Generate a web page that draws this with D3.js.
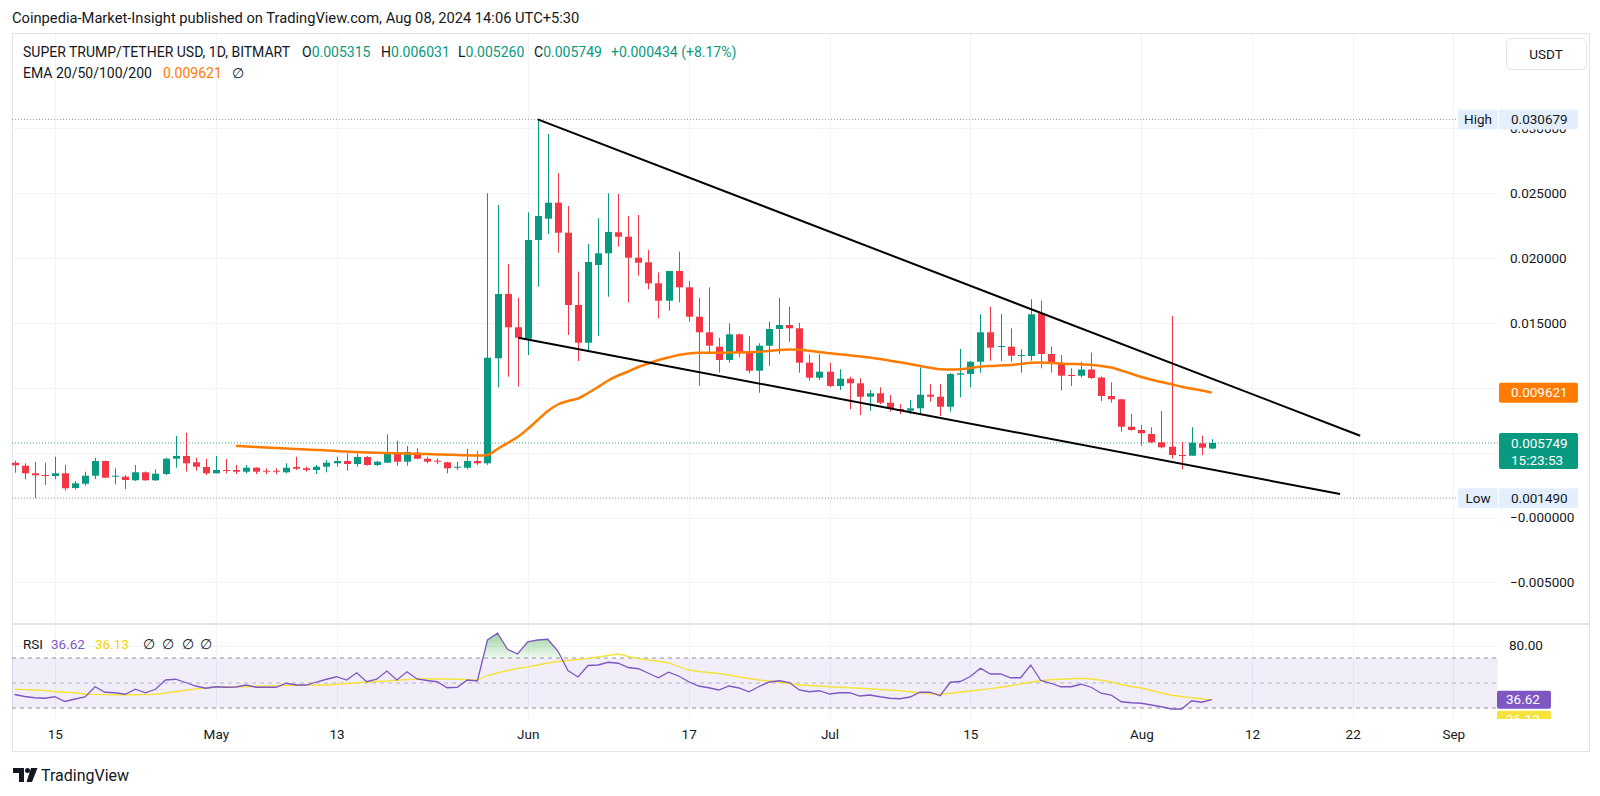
<!DOCTYPE html>
<html><head><meta charset="utf-8">
<script src="https://cdn.jsdelivr.net/npm/d3@7"></script>
<style>
html,body{margin:0;padding:0;background:#fff;}
svg{display:block;font-family:Roboto,"Noto Sans",sans-serif;}
</style></head><body>
<svg id="c" width="1600" height="796"></svg>
<script>
// ---------- DATA ----------
const startDate = [2024, 3, 11]; // 11 Apr 2024, daily candles
const opens = [.004223,.003992,.003406,.003275,.003198,.003406,.002273,.002605,.003221,.004354,
.003144,.003144,.002867,.003483,.002867,.003352,.004531,.004739,.004254,.003892,
.003406,.00366,.00366,.003529,.003838,.003606,.003606,.003483,.003892,.003791,
.00366,.003915,.004177,.004354,.004123,.004662,.004046,.004223,.004947,.0043,
.004993,.004531,.004377,.004254,.003838,.003838,.004354,.004177,.012268,.017223,
.014657,.013778,.021384,.023026,.024259,.021947,.016375,.01347,.019457,.020359,
.021978,.021638,.02002,.019666,.018048,.016707,.018995,.017739,.015474,.014271,
.013162,.012137,.014117,.01273,.011312,.013239,.014526,.014834,.01458,.011929,
.010773,.011235,.010133,.010696,.010341,.009309,.009571,.008846,.008361,.00823,
.008415,.009463,.009309,.008538,.011004,.011058,.012006,.014271,.013162,.013162,
.012468,.012445,.015736,.0126,.011883,.010981,.010927,.011405,.010788,.009363,
.009109,.006997,.006743,.006435,.005795,.005456,.004816,.004762,.005718,.005315];
const highs = [.004377,.004177,.0043,.004223,.004685,.004046,.002813,.003529,.004608,.004392,
.003791,.003275,.004046,.003545,.003714,.004608,.00628,.006535,.004608,.004531,
.004739,.004508,.004046,.004046,.003868,.003791,.003791,.004177,.004685,.003915,
.004046,.004431,.004685,.004947,.004947,.004739,.004377,.006411,.005918,.00551,
.005333,.004685,.004562,.0043,.0043,.005279,.005124,.024983,.024081,.019535,
.016938,.023519,.030679,.029553,.026524,.024004,.018941,.021076,.023056,.024983,
.024929,.023234,.023311,.020614,.018895,.018995,.020483,.018225,.016938,.017739,
.013855,.014965,.014179,.013986,.013424,.015088,.016938,.016244,.015011,.012576,
.0126,.011929,.01142,.01085,.010727,.009825,.010033,.00944,.008746,.009055,
.011574,.010288,.010288,.011112,.012985,.01206,.015659,.016244,.015682,.01458,
.012961,.016815,.016707,.013162,.012522,.011497,.012006,.012715,.010865,.010419,
.009132,.007976,.007128,.006951,.008207,.015528,.005841,.006951,.006303,.006031];
const lows = [.003452,.002944,.00149,.002504,.002944,.002065,.002173,.002451,.002967,.003044,
.002558,.002196,.002813,.002813,.002813,.003275,.003838,.003529,.003606,.003275,
.00339,.003406,.003352,.003406,.003352,.003329,.003329,.003406,.00366,.003529,
.003352,.003483,.003915,.003606,.003915,.003992,.003969,.004207,.003992,.003992,
.004485,.004177,.004123,.003406,.00366,.003714,.004046,.004046,.010033,.01085,
.01008,.012522,.017785,.021847,.020406,.014063,.01206,.01283,.013986,.017015,
.020868,.016583,.018633,.017585,.01535,.015936,.016583,.015088,.010157,.01273,
.011158,.011929,.012345,.011112,.009617,.011698,.0126,.013547,.011158,.010542,
.010596,.010033,.009825,.008338,.007899,.00823,.008746,.008153,.007976,.007976,
.007976,.008924,.007822,.008153,.009263,.010033,.011158,.012083,.01206,.012006,
.011158,.012083,.011497,.011158,.009787,.010133,.010804,.010673,.008977,.008846,
.006612,.006689,.005533,.005718,.005333,.004562,.003714,.004762,.004816,.00526];
const closes = [.004023,.003406,.003252,.003221,.003406,.00225,.002635,.003221,.004354,.003067,
.003221,.00289,.003483,.002867,.003375,.004531,.004739,.004177,.003915,.003406,
.00366,.003606,.003529,.003838,.003529,.003529,.003529,.003838,.003761,.00366,
.003915,.004223,.004354,.004123,.004662,.004046,.0043,.004947,.0043,.005047,
.004531,.0043,.0043,.003791,.003915,.004354,.004177,.012314,.017223,.014657,
.013855,.021384,.023234,.024259,.021947,.016375,.01347,.019689,.020359,.022001,
.021638,.02002,.019635,.018048,.016707,.018995,.017739,.015474,.014271,.013239,
.012137,.014117,.01273,.011312,.013239,.014526,.014834,.01458,.011929,.010773,
.011235,.010133,.010696,.010341,.009309,.009571,.008846,.008384,.00823,.008415,
.009463,.009309,.008538,.011058,.011112,.012006,.014271,.013085,.013216,.012468,
.012522,.015659,.0126,.011883,.010927,.010927,.011405,.01075,.009363,.009109,
.006997,.006743,.006489,.005795,.00541,.004816,.004762,.005764,.005379,.005749];
// EMA line values, daily from 3 May 2024 to 8 Aug 2024
const emaStart = [2024, 4, 3];
const emaValues = [.00551,.005479,.00544,.005402,.005363,.005325,.005286,.005248,.005209,.005171,
.005124,.005078,.005047,.005017,.004986,.00497,.004955,.004932,.004909,.004886,
.004863,.004839,.004816,.004793,.00477,.004816,.005279,.005741,.006203,.00682,
.007513,.008207,.008708,.008977,.00917,.009594,.010056,.010557,.010943,.011251,
.011598,.011867,.012137,.01233,.012522,.012638,.012692,.0127,.0127,.012707,
.012715,.01273,.012769,.01283,.012908,.012946,.012923,.012846,.012753,.012653,
.012576,.012499,.012422,.01233,.012214,.012083,.011968,.011829,.011675,.011536,
.01142,.011405,.01142,.01152,.01162,.011675,.011713,.011752,.011829,.011929,
.011944,.011906,.011867,.011829,.011813,.011752,.011675,.011559,.011328,.011074,
.010827,.010611,.010442,.010264,.010072,.009918,.009787,.009621];
const rsiValues = [40.8,39.2,38.2,37.8,39.0,35.2,37.2,38.8,47.0,42.6,
42.2,41.0,45.0,42.2,45.0,52.4,53.0,50.4,47.6,45.8,
47.0,46.6,46.8,48.4,46.6,46.6,46.6,49.8,48.4,48.4,
50.8,53.0,55.0,52.4,58.2,51.0,53.0,59.6,52.4,59.0,
53.2,52.0,51.0,46.2,46.6,52.4,51.6,84.4,89.8,77.0,
73.2,83.0,84.4,85.0,75.6,60.0,54.8,64.0,64.4,66.6,
65.8,62.4,61.4,57.8,54.2,58.6,55.6,51.0,47.6,46.2,
44.4,47.6,46.0,43.0,47.2,50.8,51.8,50.4,44.4,43.0,
43.8,41.2,42.2,42.2,39.6,40.4,39.0,37.8,37.4,38.8,
42.6,42.6,39.8,50.6,51.2,55.2,61.8,57.2,57.2,54.2,
54.2,64.4,52.0,49.8,47.0,47.0,49.0,46.6,41.8,40.4,
35.0,34.2,33.8,32.4,31.0,29.2,29.2,35.8,34.6,36.62];
const rsiMAValues = [45.0,44.7,44.4,44.0,43.0,42.6,42.2,41.0,40.9,40.7,
40.6,40.4,40.6,40.8,41.0,42.0,43.2,44.2,45.2,46.0,
46.6,46.8,47.0,47.0,47.4,47.6,47.9,48.2,48.2,48.3,
48.4,48.4,49.0,49.6,50.2,50.8,51.2,51.6,52.2,52.7,
53.2,53.2,53.2,53.2,53.0,52.6,52.4,56.0,58.0,60.0,
61.6,62.8,64.4,66.0,67.2,68.0,68.8,69.6,70.8,72.0,
73.2,71.2,69.6,68.4,67.4,66.0,63.2,60.4,59.2,58.4,
57.6,56.4,54.8,53.6,52.4,51.6,50.6,49.6,48.6,48.0,
47.6,47.0,46.6,46.2,45.8,45.4,44.8,44.4,43.8,43.0,
42.2,41.4,41.0,41.8,42.8,43.6,44.6,45.5,46.6,47.8,
49.2,50.6,51.8,52.6,53.0,53.4,53.8,53.2,52.2,50.8,
48.8,47.2,46.0,44.0,42.0,40.2,39.2,38.2,37.4,36.13];
// trend lines (date, price)
const upperTrend = [["2024-06-02T00:00", 0.030679], ["2024-08-22T18:00", 0.006303]];
const lowerTrend = [["2024-05-31T02:00", 0.013855], ["2024-08-20T18:00", 0.001811]];
// axis ticks
const timeTicks = [[2024,3,15],[2024,4,1],[2024,4,13],[2024,5,1],[2024,5,17],[2024,6,1],[2024,6,15],[2024,7,1],[2024,7,12],[2024,7,22],[2024,8,1]];
const timeTickLabels = ["15","May","13","Jun","17","Jul","15","Aug","12","22","Sep"];
const priceTicks = [-0.005, 0, 0.005, 0.010, 0.015, 0.020, 0.025, 0.030];
// 0.005000 sits fully under the last-price tag in the reference, so it has no visible label
const priceTickLabels = ["\u22120.005000","\u22120.000000","","0.010000","0.015000","0.020000","0.025000","0.030000"];
const highPrice = 0.030679, lowPrice = 0.001490, lastPrice = 0.005749, lastEma = 0.009621;
const rsiLast = 36.62, rsiMALast = 36.13;

// ---------- LAYOUT ----------
const PL = 12, PR = 1498, MT = 34, MB = 624, RT = 624, RB = 719, CR = 1589;
const GREEN = "#089981", RED = "#f23645", EMA_C = "#ff7b00", PURPLE = "#7e57c2", YELLOW = "#f5e23a", TXT = "#131722", GRID = "#f0f3fa";

const dates = opens.map((_, i) => d3.timeDay.offset(new Date(...startDate), i));
const candles = dates.map((d, i) => ({d, o: opens[i], h: highs[i], l: lows[i], c: closes[i]}));
const emaData = emaValues.map((v, i) => ({d: d3.timeDay.offset(new Date(...emaStart), i), v}));
const rsiData = rsiValues.map((v, i) => ({d: dates[i], v, m: rsiMAValues[i]}));

const x = d3.scaleTime().domain([dates[0], dates[dates.length - 1]]).range([14.6, 1211.8]);
const y = d3.scaleLinear().domain([0, 0.03]).range([517.5, 128.2]);
const yr = d3.scaleLinear().domain([30, 70]).range([708, 658]);

const svg = d3.select("#c");
const defs = svg.append("defs");
defs.append("clipPath").attr("id", "mainClip").append("rect").attr("x", PL).attr("y", MT).attr("width", PR - PL).attr("height", MB - MT);
defs.append("clipPath").attr("id", "rsiClip").append("rect").attr("x", PL).attr("y", RT).attr("width", PR - PL).attr("height", RB - RT);
defs.append("clipPath").attr("id", "obClip").append("rect").attr("x", PL).attr("y", RT).attr("width", PR - PL).attr("height", yr(70) - RT);
defs.append("clipPath").attr("id", "osClip").append("rect").attr("x", PL).attr("y", yr(30)).attr("width", PR - PL).attr("height", RB - yr(30));
defs.append("clipPath").attr("id", "rbClip").append("rect").attr("x", PL).attr("y", RT).attr("width", CR - PL).attr("height", RB - RT);
const gOb = defs.append("linearGradient").attr("id", "obGrad").attr("gradientUnits", "userSpaceOnUse").attr("x1", 0).attr("x2", 0).attr("y1", yr(90)).attr("y2", yr(70));
gOb.append("stop").attr("offset", 0).attr("stop-color", "#4caf50").attr("stop-opacity", 0.55);
gOb.append("stop").attr("offset", 1).attr("stop-color", "#4caf50").attr("stop-opacity", 0.08);
const gOs = defs.append("linearGradient").attr("id", "osGrad").attr("gradientUnits", "userSpaceOnUse").attr("x1", 0).attr("x2", 0).attr("y1", yr(30)).attr("y2", yr(10));
gOs.append("stop").attr("offset", 0).attr("stop-color", "#f23645").attr("stop-opacity", 0.08);
gOs.append("stop").attr("offset", 1).attr("stop-color", "#f23645").attr("stop-opacity", 0.55);

// header
svg.append("text").attr("x", 12).attr("y", 23).attr("font-size", 14.7).attr("fill", TXT)
  .text("Coinpedia-Market-Insight published on TradingView.com, Aug 08, 2024 14:06 UTC+5:30");

// frame
svg.append("rect").attr("x", PL + 0.5).attr("y", MT - 0.5).attr("width", CR - PL).attr("height", 752 - MT).attr("fill", "none").attr("stroke", "#e0e3eb");

// grid
const tickDates = timeTicks.map(t => new Date(...t));
svg.append("g").selectAll("line").data(tickDates).join("line")
  .attr("x1", d => Math.round(x(d)) + 0.5).attr("x2", d => Math.round(x(d)) + 0.5)
  .attr("y1", MT).attr("y2", RB).attr("stroke", GRID);
svg.append("g").selectAll("line").data(priceTicks).join("line")
  .attr("x1", PL).attr("x2", PR).attr("y1", d => Math.round(y(d)) + 0.5).attr("y2", d => Math.round(y(d)) + 0.5).attr("stroke", GRID);

// pane separator
svg.append("line").attr("x1", PL).attr("x2", CR).attr("y1", RT).attr("y2", RT).attr("stroke", "#e0e3eb").attr("stroke-width", 2);

// main pane content
const main = svg.append("g").attr("clip-path", "url(#mainClip)");
main.append("line").attr("x1", PL).attr("x2", 1458).attr("y1", y(highPrice)).attr("y2", y(highPrice)).attr("stroke", "#9598a1").attr("stroke-dasharray", "1,2");
main.append("line").attr("x1", PL).attr("x2", 1458).attr("y1", y(lowPrice)).attr("y2", y(lowPrice)).attr("stroke", "#9598a1").attr("stroke-dasharray", "1,2");
main.append("line").attr("x1", PL).attr("x2", PR).attr("y1", y(lastPrice)).attr("y2", y(lastPrice)).attr("stroke", GREEN).attr("stroke-opacity", 0.8).attr("stroke-dasharray", "1,2");

// candles
const cg = main.append("g").selectAll("g").data(candles).join("g");
cg.append("line")
  .attr("x1", d => Math.round(x(d.d)) + 0.5).attr("x2", d => Math.round(x(d.d)) + 0.5)
  .attr("y1", d => y(d.h)).attr("y2", d => y(d.l))
  .attr("stroke", d => d.c >= d.o ? GREEN : RED).attr("stroke-width", 1);
cg.append("rect")
  .attr("x", d => Math.round(x(d.d)) - 3).attr("width", 7)
  .attr("y", d => y(Math.max(d.o, d.c)))
  .attr("height", d => Math.max(1, y(Math.min(d.o, d.c)) - y(Math.max(d.o, d.c))))
  .attr("fill", d => d.c >= d.o ? GREEN : RED);

// EMA
main.append("path").datum(emaData)
  .attr("d", d3.line().x(d => x(d.d)).y(d => y(d.v)).curve(d3.curveMonotoneX))
  .attr("fill", "none").attr("stroke", EMA_C).attr("stroke-width", 2.5);

// trend lines
[upperTrend, lowerTrend].forEach(t => {
  main.append("path").datum(t)
    .attr("d", d3.line().x(d => x(new Date(d[0]))).y(d => y(d[1])))
    .attr("stroke", "#000").attr("stroke-width", 2).attr("fill", "none");
});

// price axis
const pa = svg.append("g").attr("transform", "translate(1510,0)")
  .call(d3.axisRight(y).tickValues(priceTicks).tickFormat((d, i) => priceTickLabels[i]).tickSize(0).tickPadding(0));
pa.select(".domain").remove();
pa.selectAll("text").attr("font-size", 13.5).attr("fill", TXT).attr("font-family", "Roboto");

// price labels
function tag(yy, h, bg, lines, fg, x0, w) {
  const g = svg.append("g");
  g.append("rect").attr("x", x0).attr("y", yy - 10).attr("width", w).attr("height", h).attr("rx", 2).attr("fill", bg);
  lines.forEach((t, k) => g.append("text").attr("x", x0 + 12).attr("y", yy + k * 17).attr("dy", "0.35em").attr("font-size", 13.5).attr("fill", fg).text(t));
}
[[highPrice, "High"], [lowPrice, "Low"]].forEach(([p, lab]) => {
  const yy = y(p);
  svg.append("rect").attr("x", 1458).attr("y", yy - 10).attr("width", 40).attr("height", 20).attr("rx", 2).attr("fill", "#e3effd");
  svg.append("text").attr("x", 1478).attr("y", yy).attr("dy", "0.35em").attr("text-anchor", "middle").attr("font-size", 13.5).attr("fill", TXT).text(lab);
  tag(yy, 20, "#e3effd", [d3.format(".6f")(p)], TXT, 1499, 79);
});
tag(y(lastEma), 20, EMA_C, [d3.format(".6f")(lastEma)], "#fff", 1499, 79);
tag(y(lastPrice), 36, GREEN, [d3.format(".6f")(lastPrice), "15:23:53"], "#fff", 1499, 79);

// USDT button
svg.append("rect").attr("x", 1506.5).attr("y", 38.5).attr("width", 80).attr("height", 31).attr("rx", 5).attr("fill", "#fff").attr("stroke", "#e0e3eb");
svg.append("text").attr("x", 1546).attr("y", 54).attr("dy", "0.35em").attr("text-anchor", "middle").attr("font-size", 13.5).attr("fill", TXT).text("USDT");

// legends
const lg = svg.append("text").attr("y", 52).attr("dy", "0.35em").attr("font-size", 14).attr("fill", TXT);
lg.append("tspan").attr("x", 23).text("SUPER TRUMP/TETHER USD, 1D, BITMART");
[["O", 302, opens[119]], ["H", 381, highs[119]], ["L", 458, lows[119]], ["C", 534, closes[119]]].forEach(([k, xx, v]) => {
  lg.append("tspan").attr("x", xx).attr("fill", TXT).text(k);
  lg.append("tspan").attr("fill", GREEN).text(d3.format(".6f")(v));
});
lg.append("tspan").attr("x", 611).attr("fill", GREEN).text("+0.000434 (+8.17%)");
const lg2 = svg.append("text").attr("y", 73).attr("dy", "0.35em").attr("font-size", 14).attr("fill", TXT);
lg2.append("tspan").attr("x", 23).text("EMA 20/50/100/200");
lg2.append("tspan").attr("x", 163).attr("fill", EMA_C).text(d3.format(".6f")(lastEma));
lg2.append("tspan").attr("x", 232).text("\u2205");

// ---------- RSI pane ----------
const rp = svg.append("g").attr("clip-path", "url(#rsiClip)");
rp.append("line").attr("x1", PL).attr("x2", PR).attr("y1", Math.round(yr(80)) + 0.5).attr("y2", Math.round(yr(80)) + 0.5).attr("stroke", GRID);
rp.append("rect").attr("x", PL).attr("width", PR - PL).attr("y", yr(70)).attr("height", yr(30) - yr(70)).attr("fill", PURPLE).attr("fill-opacity", 0.1);
[70, 50, 30].forEach(l => rp.append("line").attr("x1", PL).attr("x2", PR).attr("y1", yr(l)).attr("y2", yr(l))
  .attr("stroke", "#787b86").attr("stroke-opacity", l === 50 ? 0.5 : 0.8).attr("stroke-dasharray", "4,4"));
rp.append("path").datum(rsiData).attr("clip-path", "url(#obClip)")
  .attr("d", d3.area().x(d => x(d.d)).y0(yr(70)).y1(d => yr(d.v))).attr("fill", "url(#obGrad)");
rp.append("path").datum(rsiData).attr("clip-path", "url(#osClip)")
  .attr("d", d3.area().x(d => x(d.d)).y0(yr(30)).y1(d => yr(d.v))).attr("fill", "url(#osGrad)");
rp.append("path").datum(rsiData).attr("d", d3.line().x(d => x(d.d)).y(d => yr(d.m)))
  .attr("fill", "none").attr("stroke", YELLOW).attr("stroke-width", 1.3);
rp.append("path").datum(rsiData).attr("d", d3.line().x(d => x(d.d)).y(d => yr(d.v)))
  .attr("fill", "none").attr("stroke", PURPLE).attr("stroke-width", 1.3);

// RSI axis
const ra = svg.append("g").attr("transform", "translate(1509,0)")
  .call(d3.axisRight(yr).tickValues([80]).tickFormat(d3.format(".2f")).tickSize(0).tickPadding(0));
ra.select(".domain").remove();
ra.selectAll("text").attr("font-size", 13.5).attr("fill", TXT).attr("font-family", "Roboto");
const rbx = svg.append("g").attr("clip-path", "url(#rbClip)");
rbx.append("rect").attr("x", 1497).attr("y", yr(rsiLast) - 9).attr("width", 54).attr("height", 18).attr("rx", 2).attr("fill", PURPLE);
rbx.append("text").attr("x", 1506).attr("y", yr(rsiLast)).attr("dy", "0.35em").attr("font-size", 13.5).attr("fill", "#fff").text(d3.format(".2f")(rsiLast));
rbx.append("rect").attr("x", 1497).attr("y", yr(rsiLast) + 11).attr("width", 54).attr("height", 18).attr("rx", 2).attr("fill", YELLOW);
rbx.append("text").attr("x", 1506).attr("y", yr(rsiLast) + 20).attr("dy", "0.35em").attr("font-size", 13.5).attr("fill", "#fff").text(d3.format(".2f")(rsiMALast));

// RSI legend
const rl = svg.append("text").attr("y", yr(80) - 1).attr("dy", "0.35em").attr("font-size", 13.5).attr("fill", TXT);
rl.append("tspan").attr("x", 23).text("RSI");
rl.append("tspan").attr("x", 51).attr("fill", PURPLE).text(d3.format(".2f")(rsiLast));
rl.append("tspan").attr("x", 95).attr("fill", "#f0d500").text(d3.format(".2f")(rsiMALast));
[143, 162, 182, 200].forEach(xx => rl.append("tspan").attr("x", xx).text("\u2205"));

// time axis
const ta = svg.append("g").attr("transform", "translate(0,729)")
  .call(d3.axisBottom(x).tickValues(tickDates).tickFormat((d, i) => timeTickLabels[i]).tickSize(0).tickPadding(0));
ta.select(".domain").remove();
ta.selectAll("text").attr("font-size", 13.5).attr("fill", TXT).attr("font-family", "Roboto");

// TradingView logo
const logo = svg.append("g").attr("fill", TXT);
logo.append("path").attr("d", "M13,768 H24 V782 H19 V773 H13 Z");
logo.append("circle").attr("cx", 27.5).attr("cy", 770.5).attr("r", 2.5);
logo.append("path").attr("d", "M31,768 H37.5 L32,782 H26.5 Z");
svg.append("text").attr("x", 41).attr("y", 775).attr("dy", "0.35em").attr("font-size", 16).attr("fill", TXT).text("TradingView");
</script>
</body></html>
